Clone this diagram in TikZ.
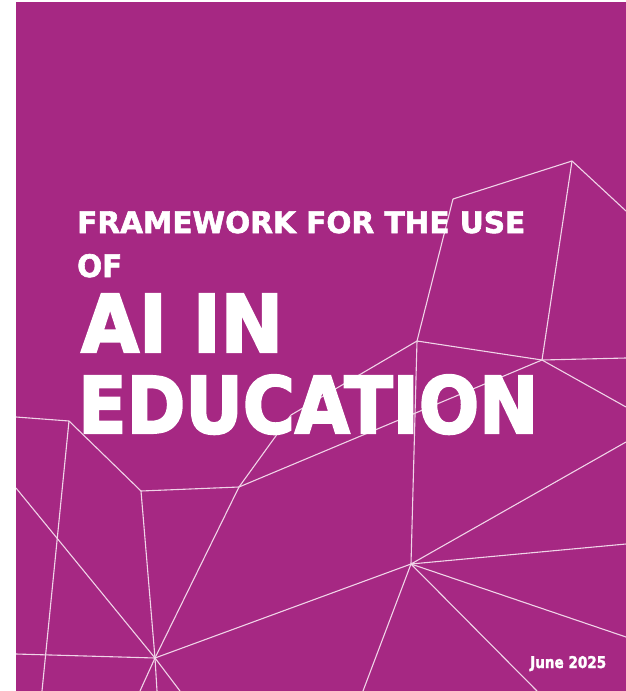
\documentclass[tikz,border=0pt]{standalone}
\usepackage{fontspec}
\setmainfont{DejaVu Sans}
\newfontfamily\titlefont{DejaVu Sans Bold}[FakeBold=3]
\newfontfamily\smalltitlefont{DejaVu Sans Bold}[FakeBold=2]
\definecolor{coverpurple}{RGB}{166,40,131}
\definecolor{netline}{RGB}{240,212,232}
\begin{document}
\begin{tikzpicture}[x=1pt,y=-1pt,
  net/.style={draw=netline,line width=1.1pt},
  title/.style={anchor=base west,inner sep=0pt,text=white,font=\titlefont},
  smalltitle/.style={anchor=base west,inner sep=0pt,text=white,font=\smalltitlefont}]
\useasboundingbox (0,0) rectangle (626,691);
\fill[white] (0,0) rectangle (626,691);
\fill[coverpurple] (16,2) rectangle (626,691);
% vertices
\coordinate (A) at (572,161);
\coordinate (B) at (453,199);
\coordinate (C) at (417,341);
\coordinate (D) at (542,360);
\coordinate (E) at (411,564);
\coordinate (F) at (239,487);
\coordinate (G) at (291,415);
\coordinate (H) at (141,491);
\coordinate (I) at (69,421);
\coordinate (J) at (155,658);
% free ends on the page border
\coordinate (a1) at (626,211);
\coordinate (d1) at (626,358);
\coordinate (d2) at (626,407);
\coordinate (e1) at (626,442);
\coordinate (e2) at (626,544);
\coordinate (e3) at (626,637);
\coordinate (e4) at (537,691);
\coordinate (e5) at (363,691);
\coordinate (i1) at (16,417);
\coordinate (i2) at (42,691);
\coordinate (l1) at (16,488);
\coordinate (l2) at (16,654);
\coordinate (j1) at (140,691);
\coordinate (j2) at (157,691);
\coordinate (j3) at (180,691);
% network
\begin{scope}
\clip (16,2) rectangle (626,691);
\draw[net] (A) -- (B);
\draw[net] (A) -- (D);
\draw[net] (A) -- (a1);
\draw[net] (B) -- (C);
\draw[net] (C) -- (D);
\draw[net] (C) -- (E);
\draw[net] (C) -- (G);
\draw[net] (G) -- (F);
\draw[net] (D) -- (d1);
\draw[net] (D) -- (d2);
\draw[net] (D) -- (F);
\draw[net] (F) -- (H);
\draw[net] (F) -- (J);
\draw[net] (H) -- (I);
\draw[net] (H) -- (J);
\draw[net] (I) -- (i1);
\draw[net] (I) -- (i2);
\draw[net] (l1) -- (J);
\draw[net] (l2) -- (J);
\draw[net] (J) -- (E);
\draw[net] (J) -- (j1);
\draw[net] (J) -- (j2);
\draw[net] (J) -- (j3);
\draw[net] (E) -- (e1);
\draw[net] (E) -- (e2);
\draw[net] (E) -- (e3);
\draw[net] (E) -- (e4);
\draw[net] (E) -- (e5);
\end{scope}
% texts
\node[smalltitle] (t1) at (77,233) {\resizebox{448pt}{22pt}{FRAMEWORK FOR THE USE}};
\node[smalltitle] (t2) at (77,277) {\resizebox{45pt}{23pt}{OF}};
\node[title] (t3) at (81,352) {\resizebox{202pt}{58pt}{AI IN}};
\node[title] (t4) at (78,433) {\resizebox{460pt}{58pt}{EDUCATION}};
\node[smalltitle] (t5) at (530,668) {\resizebox{76pt}{12pt}{June 2025}};
\end{tikzpicture}
\end{document}
